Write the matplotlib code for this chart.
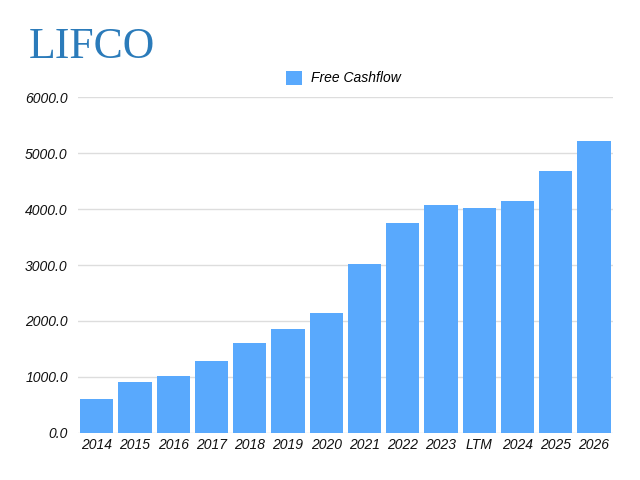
import matplotlib.pyplot as plt
from matplotlib.patches import Patch

# free cashflow per year
years = ["2014", "2015", "2016", "2017", "2018", "2019", "2020",
         "2021", "2022", "2023", "LTM", "2024", "2025", "2026"]
free_cashflow = [598, 907, 1020, 1278, 1605, 1850, 2137,
                 3024, 3753, 4069, 4026, 4152, 4689, 5215]
yticks = [0, 1000, 2000, 3000, 4000, 5000, 6000]

bar_color = "#59A9FD"
font = "Liberation Sans"

fig = plt.figure(figsize=(6.4, 4.8), dpi=100)
ax = fig.add_axes([77.5 / 640, 1 - 432.7 / 480, (613.2 - 77.5) / 640, (432.7 - 97.4) / 480])

x = range(len(years))
ax.bar(x, free_cashflow, width=0.87, color=bar_color, zorder=3)

ax.set_ylim(0, 6000)
ax.set_xlim(-0.5, len(years) - 0.5)
ax.set_yticks(yticks)
ax.set_yticklabels(["%.1f" % v for v in yticks], fontsize=10, family=font, style="italic")
ax.set_xticks(list(x))
ax.set_xticklabels(years, fontsize=10, family=font, style="italic")
ax.tick_params(axis="both", length=0, colors="#111111")
ax.tick_params(axis="y", pad=7)
ax.tick_params(axis="x", pad=4)
ax.yaxis.grid(True, color="#DDDDDD", linewidth=1)
for side in ["top", "right", "left", "bottom"]:
  ax.spines[side].set_visible(False)

# legend above the plot
handle = Patch(facecolor=bar_color, edgecolor="none")
fig.legend([handle], ["Free Cashflow"], loc="center", bbox_to_anchor=(343 / 640, 1 - 78 / 480),
           frameon=False, handlelength=1.2, handleheight=1.2, handletextpad=0.6,
           prop={"family": font, "style": "italic", "size": 10})

# company logo text
fig.text(29 / 640, 1 - 58 / 480, "LIFCO", family="Liberation Serif", fontsize=31.5,
         color="#2B7BBA", ha="left", va="baseline")

fig.savefig("out.png", dpi=100)
